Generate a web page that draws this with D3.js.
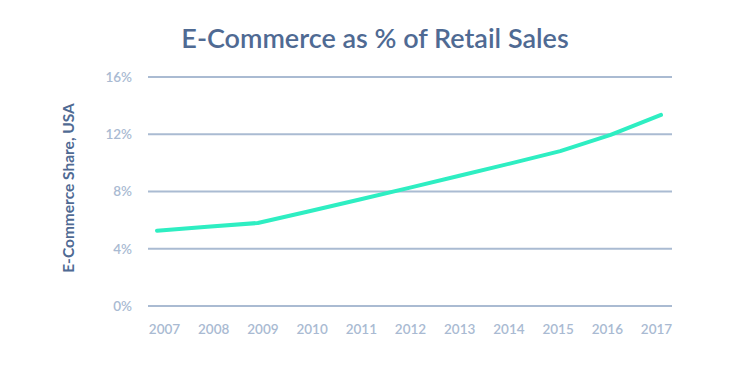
<!DOCTYPE html>
<html>
<head>
<meta charset="utf-8">
<script src="https://cdn.jsdelivr.net/npm/d3@7"></script>
<style>
  body { margin: 0; background: #fff; }
  text { font-family: "Source Sans Pro", Lato, "Open Sans", sans-serif; }
</style>
</head>
<body>
<div id="chart"></div>
<script>
const years = [2007, 2008, 2009, 2010, 2011, 2012, 2013, 2014, 2015, 2016, 2017];
const share = [5.26, 5.53, 5.8, 6.6, 7.42, 8.25, 9.1, 9.95, 10.82, 11.95, 13.35];
const yTicks = [0, 4, 8, 12, 16];

const W = 750, H = 376;
const margin = { top: 77, right: 78, bottom: 70, left: 148 };
const innerW = W - margin.left - margin.right;
const innerH = H - margin.top - margin.bottom;

const svg = d3.select("#chart")
    .append("svg")
    .attr("width", W)
    .attr("height", H);

const g = svg.append("g")
    .attr("transform", `translate(${margin.left},${margin.top})`);

const x = d3.scalePoint().domain(years).range([9, innerW - 11]);
const xLabel = d3.scalePoint().domain(years).range([16, innerW - 16]);
const y = d3.scaleLinear().domain([0, 16]).range([innerH, 0]);

// grid lines
g.selectAll(".grid")
    .data(yTicks)
    .enter()
    .append("line")
    .attr("class", "grid")
    .attr("x1", 0)
    .attr("x2", innerW)
    .attr("y1", (d) => y(d))
    .attr("y2", (d) => y(d))
    .style("stroke", "#aabbd2")
    .style("stroke-width", "2px");

// y tick labels
const yAxis = g.append("g")
    .call(d3.axisLeft(y).tickValues(yTicks).tickSize(0).tickPadding(16).tickFormat((d) => d + "%"));
yAxis.select(".domain").remove();
yAxis.selectAll("text")
    .style("font-size", "13.5px")
    .style("font-weight", "600")
    .attr("fill", "#a9bad2");

// x tick labels
const xAxis = g.append("g")
    .attr("transform", `translate(0,${innerH})`)
    .call(d3.axisBottom(xLabel).tickSize(0).tickPadding(18));
xAxis.select(".domain").remove();
xAxis.selectAll("text")
    .style("font-size", "13.5px")
    .style("font-weight", "600")
    .attr("fill", "#a9bad2");

// the line
const line = d3.line()
    .x((d, i) => x(years[i]))
    .y((d) => y(d));

g.append("path")
    .datum(share)
    .attr("d", line)
    .style("fill", "none")
    .style("stroke", "#2eeec2")
    .style("stroke-width", "4px")
    .style("stroke-linecap", "round")
    .style("stroke-linejoin", "round");

// title
svg.append("text")
    .attr("x", 375)
    .attr("y", 48)
    .attr("text-anchor", "middle")
    .style("font-size", "27px")
    .style("font-weight", "600")
    .attr("fill", "#4f6a93")
    .text("E-Commerce as % of Retail Sales");

// y axis title
svg.append("text")
    .attr("transform", "translate(74,188) rotate(-90)")
    .attr("text-anchor", "middle")
    .style("font-size", "15.5px")
    .style("font-weight", "700")
    .attr("fill", "#4f6a93")
    .text("E-Commerce Share, USA");
</script>
</body>
</html>
